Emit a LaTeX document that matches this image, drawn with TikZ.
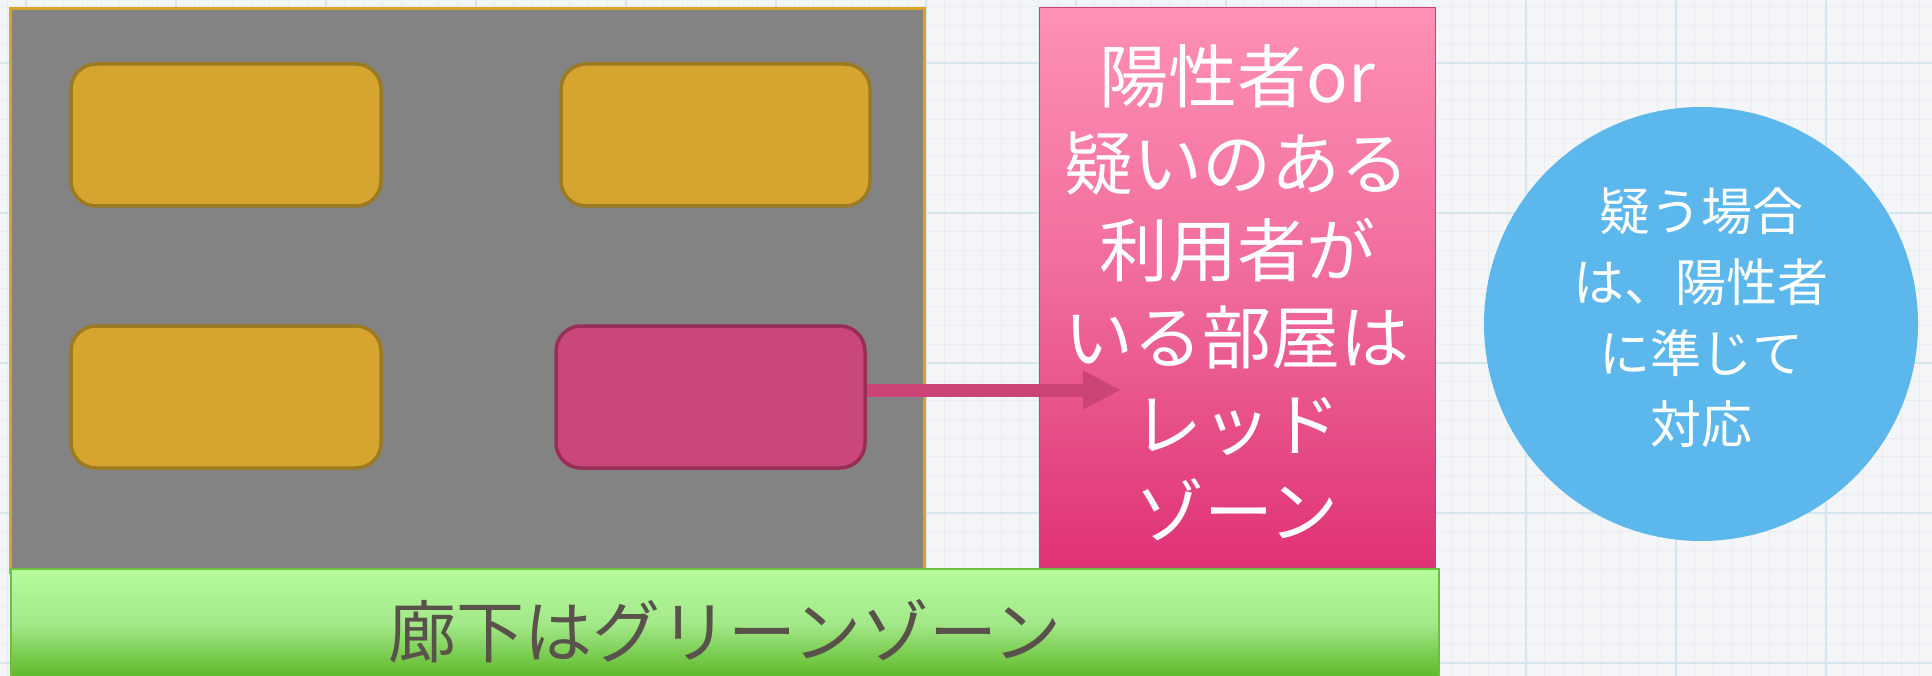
\documentclass[tikz,border=0pt]{standalone}
\usepackage{fontspec}
\setmainfont{Noto Sans CJK JP}
\usetikzlibrary{arrows.meta}
\definecolor{bgc}{HTML}{F3F5F6}
\definecolor{minorc}{HTML}{E7EDF1}
\definecolor{majorc}{HTML}{D5E5EF}
\definecolor{floorc}{HTML}{838383}
\definecolor{goldc}{HTML}{D6A42C}
\definecolor{roomc}{HTML}{D5A52F}
\definecolor{roomb}{HTML}{9C7A22}
\definecolor{redroom}{HTML}{C9477A}
\definecolor{redroomb}{HTML}{982D58}
\definecolor{arrowc}{HTML}{CB4478}
\definecolor{pinktop}{HTML}{FF90B4}
\definecolor{pinkmid}{HTML}{EF6A9B}
\definecolor{pinkbot}{HTML}{DF3275}
\definecolor{pinkb}{HTML}{C8417A}
\definecolor{greentop}{HTML}{B6FB9C}
\definecolor{greenmid}{HTML}{A3E98A}
\definecolor{greenbot}{HTML}{5EB828}
\definecolor{greenb}{HTML}{6CC040}
\definecolor{greentext}{HTML}{59524B}
\definecolor{circc}{HTML}{5CB8EC}
\begin{document}
\begin{tikzpicture}[x=1pt,y=-1pt,
  room/.style={draw=roomb, fill=roomc, line width=3.5pt, rounded corners=25pt,
    minimum width=310pt, minimum height=142pt, inner sep=0pt},
  redroomst/.style={room, draw=redroomb, fill=redroom},
  minorline/.style={minorc, line width=0.8pt},
  majorline/.style={majorc, line width=1.5pt}]
\useasboundingbox (0,0) rectangle (1932,676);
\fill[bgc] (0,0) rectangle (1932,676);
% grid
\foreach \i in {0,...,103} {\draw[minorline] (\i*18.75+7.25,0) -- ++(0,676);}
\foreach \j in {0,...,36} {\draw[minorline] (0,\j*18.75+6.75) -- ++(1932,0);}
\foreach \i in {0,...,12} {\draw[majorline] (\i*150+26,0) -- ++(0,676);}
\foreach \j in {0,...,4} {\draw[majorline] (0,\j*150+63) -- ++(1932,0);}
% floor
\node[draw=goldc, fill=floorc, line width=3pt, minimum width=914pt, minimum height=563pt, inner sep=0pt] (floor) at (467,290.5) {};
% rooms
\node[room] (r1) at (226,135) {};
\node[room, minimum width=309pt] (r2) at (715.5,135) {};
\node[room] (r3) at (226,397) {};
\node[redroomst, minimum width=309pt] (r4) at (710.5,397) {};
% red zone box
\node[draw=pinkb, line width=1pt, top color=pinktop, bottom color=pinkbot, middle color=pinkmid,
  minimum width=396pt, minimum height=559pt, inner sep=0pt] (red) at (1237,287.5) {};
\node[text=white, align=center, font=\fontsize{69}{87}\selectfont] (redtxt) at (1237,293)
  {陽性者or\\疑いのある\\利用者が\\いる部屋は\\レッド\\ゾーン};
% arrow
\coordinate (tip) at (1121,390);
\draw[arrowc, line width=13pt, -{Triangle[length=38pt,width=36pt]}] (r4.east |- tip) -- (tip);
% green corridor
\node[draw=greenb, line width=1.2pt, top color=greentop, bottom color=greenbot, middle color=greenmid,
  minimum width=1428pt, minimum height=108pt, inner sep=0pt] (green) at (725,623) {};
\node[text=greentext, font=\fontsize{68}{70}\selectfont] (greentxt) at (725,631) {廊下はグリーンゾーン};
% circle
\node[circle, fill=circc, minimum size=434pt, inner sep=0pt] (circ) at (1701,324) {};
\node[text=white, align=center, font=\fontsize{51}{71}\selectfont] (circtxt) at (1701,318)
  {疑う場合\\は、陽性者\\に準じて\\対応};
\end{tikzpicture}
\end{document}
